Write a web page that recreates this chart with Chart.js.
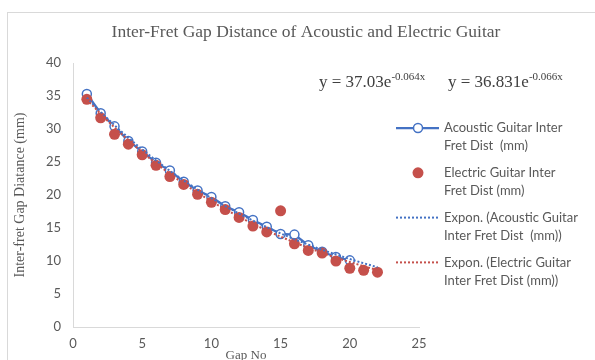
<!DOCTYPE html>
<html><head><meta charset="utf-8">
<script src="https://cdn.jsdelivr.net/npm/chart.js@4/dist/chart.umd.min.js"></script>
<style>html,body{margin:0;padding:0;background:#fff;overflow:hidden}#wrap{width:595px;height:360px;position:relative}</style>
</head><body><div id="wrap"><canvas id="c" width="595" height="360"></canvas></div>
<script>
const chartTitle = "Inter-Fret Gap Distance of Acoustic and Electric Guitar";
const xTitle = "Gap No";
const yTitle = "Inter-fret Gap Diatance (mm)";
const gapNoAcoustic = [1,2,3,4,5,6,7,8,9,10,11,12,13,14,15,16,17,18,19,20];
const acousticDist = [35.3,32.4,30.4,28.2,26.6,24.9,23.7,22.0,20.7,19.7,18.3,17.4,16.2,15.2,14.1,14.0,12.4,11.4,10.6,10.1];
const gapNoElectric = [1,2,3,4,5,6,7,8,9,10,11,12,13,14,15,16,17,18,19,20,21,22];
const electricDist = [34.5,31.7,29.2,27.7,26.1,24.5,22.8,21.6,20.1,18.9,17.8,16.6,15.3,14.4,17.6,12.6,11.6,11.2,10.0,8.9,8.6,8.3];
const trendX = [1,2,3,4,5,6,7,8,9,10,11,12,13,14,15,16,17,18,19,20,21,22];
const acousticTrend = [34.73,32.58,30.56,28.67,26.89,25.22,23.66,22.19,20.82,19.53,18.32,17.18,16.12,15.12,14.18,13.30,12.48,11.70,10.98,10.30,9.66,9.06];
const electricTrend = [34.48,32.28,30.22,28.29,26.48,24.79,23.20,21.72,20.33,19.04,17.82,16.68,15.62,14.62,13.69,12.81,11.99,11.23,10.51,9.84,9.21,8.62];
const xTicks = [0,5,10,15,20,25];
const yTicks = [0,5,10,15,20,25,30,35,40];
const eqAcoustic = ["y = 37.03e", "-0.064x"];
const eqElectric = ["y = 36.831e", "-0.066x"];
const legendLines = [
  ["Acoustic Guitar Inter", "Fret Dist  (mm)"],
  ["Electric Guitar Inter", "Fret Dist (mm)"],
  ["Expon. (Acoustic Guitar", "Inter Fret Dist  (mm))"],
  ["Expon. (Electric Guitar", "Inter Fret Dist (mm))"]
];
const seriesNames = ["Acoustic Guitar Inter Fret Dist  (mm)", "Electric Guitar Inter Fret Dist (mm)",
  "Expon. (Acoustic Guitar Inter Fret Dist  (mm))", "Expon. (Electric Guitar Inter Fret Dist (mm))"];

const BLUE = '#4472C4', RED = '#C5504B', GRAY = '#595959';
const pts = (xs, ys) => xs.map((x, i) => ({x: x, y: ys[i]}));

const deco = {
  id: 'deco',
  beforeDraw(chart) {
    const ctx = chart.ctx;
    ctx.save();
    ctx.fillStyle = '#fff';
    ctx.fillRect(0, 0, chart.width, chart.height);
    ctx.strokeStyle = '#D9D9D9';
    ctx.lineWidth = 1;
    ctx.strokeRect(7.5, 12.5, 640, 400);
    ctx.restore();
  },
  afterDraw(chart) {
    const ctx = chart.ctx;
    ctx.save();
    ctx.fillStyle = GRAY;
    ctx.textAlign = 'center';
    ctx.textBaseline = 'middle';
    ctx.font = '17.5px "Liberation Serif"';
    ctx.fillText(chartTitle, 306, 32);
    const drawEq = (eq, x, y) => {
      ctx.textAlign = 'left';
      ctx.textBaseline = 'alphabetic';
      ctx.fillStyle = '#404040';
      ctx.font = '17px "Liberation Serif"';
      ctx.fillText(eq[0], x, y);
      const w = ctx.measureText(eq[0]).width;
      ctx.font = '11px "Liberation Serif"';
      ctx.fillText(eq[1], x + w, y - 7);
    };
    drawEq(eqAcoustic, 319, 87);
    drawEq(eqElectric, 448, 87);
    const ds = chart.data.datasets;
    for (let i = 0; i < legendLines.length; i++) {
      const y0 = 128 + 44.8 * i;
      const d = ds[i];
      ctx.save();
      if (d.showLine !== false) {
        ctx.strokeStyle = d.borderColor;
        ctx.lineWidth = d.borderWidth;
        ctx.setLineDash(d.borderDash || []);
        ctx.beginPath();
        ctx.moveTo(396, y0);
        ctx.lineTo(439, y0);
        ctx.stroke();
      }
      ctx.setLineDash([]);
      if (d.pointRadius > 0) {
        ctx.beginPath();
        ctx.arc(418, y0, d.pointRadius, 0, Math.PI * 2);
        ctx.fillStyle = d.pointBackgroundColor;
        ctx.fill();
        if (d.pointBorderWidth > 0) {
          ctx.lineWidth = d.pointBorderWidth;
          ctx.strokeStyle = d.pointBorderColor;
          ctx.stroke();
        }
      }
      ctx.restore();
      ctx.fillStyle = GRAY;
      ctx.font = '13px Lato';
      ctx.textAlign = 'left';
      ctx.textBaseline = 'middle';
      ctx.fillText(legendLines[i][0], 444, y0);
      ctx.fillText(legendLines[i][1], 444, y0 + 18);
    }
    ctx.restore();
  }
};

new Chart(document.getElementById('c'), {
  type: 'scatter',
  data: {
    datasets: [
      { label: seriesNames[0], data: pts(gapNoAcoustic, acousticDist), showLine: true,
        borderColor: BLUE, borderWidth: 2.25, pointRadius: 4.5, pointBorderWidth: 1.5,
        pointBackgroundColor: '#fff', pointBorderColor: BLUE, order: 3 },
      { label: seriesNames[1], data: pts(gapNoElectric, electricDist), showLine: false,
        borderColor: RED, borderWidth: 0, pointRadius: 5.5, pointBorderWidth: 0,
        pointBackgroundColor: RED, pointBorderColor: RED, order: 2 },
      { label: seriesNames[2], data: pts(trendX, acousticTrend), showLine: true,
        borderColor: BLUE, borderWidth: 2, borderDash: [2, 2], pointRadius: 0, order: 1 },
      { label: seriesNames[3], data: pts(trendX, electricTrend), showLine: true,
        borderColor: RED, borderWidth: 2, borderDash: [2, 2], pointRadius: 0, order: 0 }
    ]
  },
  options: {
    responsive: false,
    animation: false,
    layout: { padding: { left: 8, right: 176, top: 63, bottom: 0 } },
    plugins: { legend: { display: false }, title: { display: false }, tooltip: { enabled: false } },
    scales: {
      x: {
        type: 'linear', min: 0, max: 25,
        afterBuildTicks: s => { s.ticks = xTicks.map(v => ({value: v})); },
        afterFit: s => { s.height = 33; },
        grid: { display: false, drawTicks: false },
        border: { color: '#D9D9D9', width: 1 },
        ticks: { color: GRAY, font: { family: 'Lato', size: 13 }, padding: 9, maxRotation: 0 },
        title: { display: true, text: xTitle, color: GRAY, font: { family: 'Liberation Serif', size: 13 },
                 padding: { top: 0, bottom: -3 } }
      },
      y: {
        type: 'linear', min: 0, max: 40,
        afterBuildTicks: s => { s.ticks = yTicks.map(v => ({value: v})); },
        afterFit: s => { s.width = 65; },
        grid: { display: false, drawTicks: false },
        border: { color: '#D9D9D9', width: 1 },
        ticks: { color: GRAY, font: { family: 'Lato', size: 13 }, padding: 12 },
        title: { display: true, text: yTitle, color: GRAY, font: { family: 'Liberation Serif', size: 14 },
                 padding: { top: 4, bottom: 0 } }
      }
    }
  },
  plugins: [deco]
});
</script></body></html>
